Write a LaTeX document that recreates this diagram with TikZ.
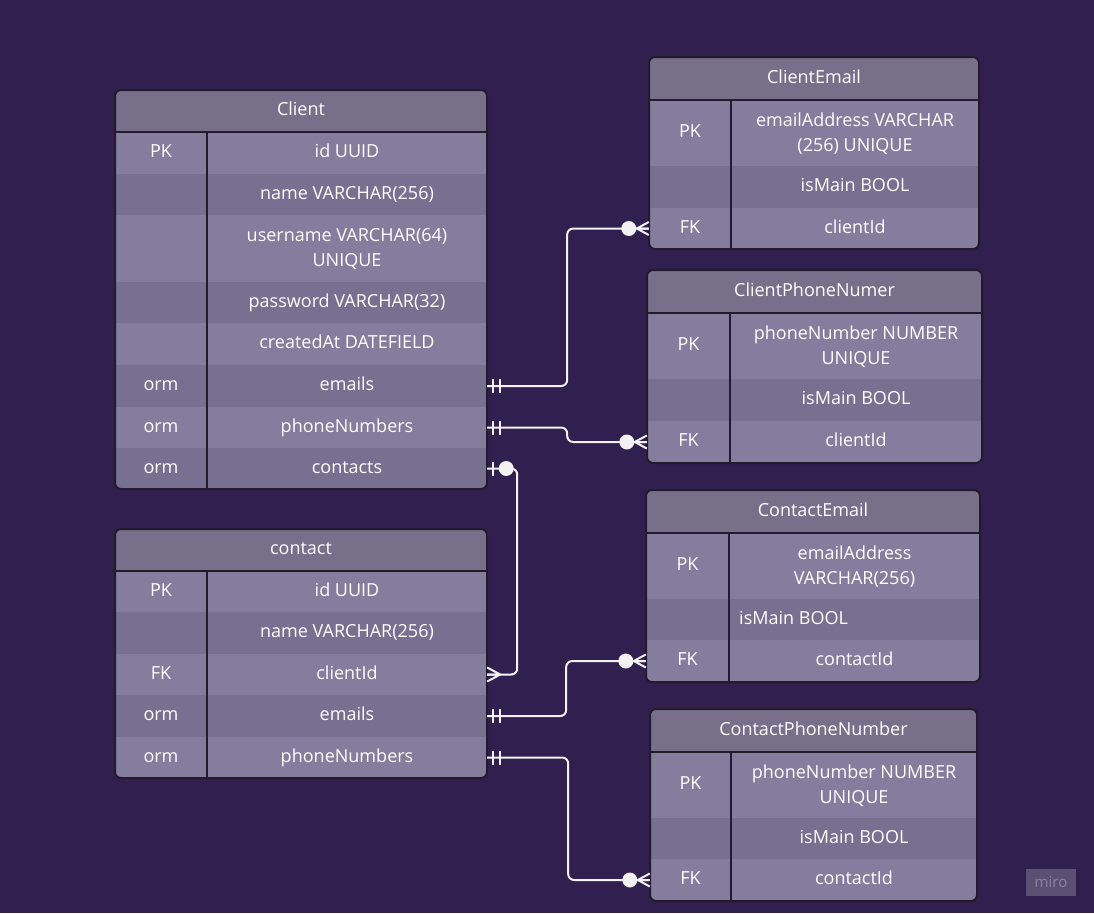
\documentclass[tikz,border=0pt]{standalone}
\usepackage{fontspec}
\setmainfont{Open Sans}
\definecolor{bg}{HTML}{311F4F}
\definecolor{hdr}{HTML}{78708B}
\definecolor{rowL}{HTML}{857D9D}
\definecolor{rowD}{HTML}{787090}
\definecolor{edge}{HTML}{221B2C}
\definecolor{connc}{HTML}{F2F2F2}
\definecolor{logo}{HTML}{5B5073}
\definecolor{logotxt}{HTML}{8C83A3}
\tikzset{
  cellbase/.style={inner sep=0pt, draw=none, text=white, font=\fontsize{18}{25}\selectfont, align=center},
  cell/.style={cellbase, text height=13pt, text depth=4pt},
  frame/.style={draw=edge, line width=2pt},
  conn/.style={draw=connc, line width=2pt},
  onlyone/.pic={\draw[conn] (6,-7)--(6,7) (13,-7)--(13,7);},
  manyopt/.pic={\draw[conn] (0,-6.5) -- (-12,0) -- (0,6.5) (0,0) -- (-12,0); \fill[connc] (-20,0) circle (7.5);},
  zeroone/.pic={\draw[conn] (6,-7)--(6,7); \fill[connc] (19,0) circle (7.5);},
  manyfoot/.pic={\draw[conn] (0,-7) -- (13,0) -- (0,7) (0,0) -- (13,0);}
}
\newcommand\ercell[7]{\node[cell,fill=#6,minimum width={#4-#2},minimum height={#5-#3}] (#1) at ({(#2+#4)/2},{(#3+#5)/2}) {#7};}
\newcommand\ercellm[7]{\node[cellbase,fill=#6,minimum width={#4-#2},minimum height={#5-#3}] (#1) at ({(#2+#4)/2},{(#3+#5)/2+1}) {#7};}
\newcommand\erframe[6]{\draw[frame,rounded corners=6] (#1,#2) rectangle (#3,#4); \draw[frame] (#1,#5) -- (#3,#5) (#6,#5) -- (#6,#4);}
\begin{document}
\begin{tikzpicture}[x=1pt,y=-1pt]
\useasboundingbox (0,0) rectangle (1094,913);
\fill[bg] (0,0) rectangle (1094,913);

% ---------- Client ----------
\begin{scope}
\clip[rounded corners=6] (115,90) rectangle (487,489);
\ercell{c-h}{115}{90}{487}{132}{hdr}{Client}
\ercell{c-pk-l}{115}{132}{207}{174}{rowL}{PK}
\ercell{c-pk-r}{207}{132}{487}{174}{rowL}{id UUID}
\ercell{c-name-l}{115}{174}{207}{215}{rowD}{}
\ercell{c-name-r}{207}{174}{487}{215}{rowD}{name VARCHAR(256)}
\ercell{c-user-l}{115}{215}{207}{282}{rowL}{}
\fill[rowL] (207,215) rectangle (487,282);
\ercellm{c-user-r}{207}{215}{487}{282}{rowL}{username VARCHAR(64)\\UNIQUE}
\ercell{c-pass-l}{115}{282}{207}{323}{rowD}{}
\ercell{c-pass-r}{207}{282}{487}{323}{rowD}{password VARCHAR(32)}
\ercell{c-cr-l}{115}{323}{207}{365}{rowL}{}
\ercell{c-cr-r}{207}{323}{487}{365}{rowL}{createdAt DATEFIELD}
\ercell{c-em-l}{115}{365}{207}{407}{rowD}{orm}
\ercell{c-em-r}{207}{365}{487}{407}{rowD}{emails}
\ercell{c-ph-l}{115}{407}{207}{448}{rowL}{orm}
\ercell{c-ph-r}{207}{407}{487}{448}{rowL}{phoneNumbers}
\ercell{c-co-l}{115}{448}{207}{489}{rowD}{orm}
\ercell{c-co-r}{207}{448}{487}{489}{rowD}{contacts}
\end{scope}
\erframe{115}{90}{487}{489}{132}{207}

% ---------- contact ----------
\begin{scope}
\clip[rounded corners=6] (115,529) rectangle (487,778);
\ercell{n-h}{115}{529}{487}{571}{hdr}{contact}
\ercell{n-pk-l}{115}{571}{207}{612}{rowL}{PK}
\ercell{n-pk-r}{207}{571}{487}{612}{rowL}{id UUID}
\ercell{n-name-l}{115}{612}{207}{654}{rowD}{}
\ercell{n-name-r}{207}{612}{487}{654}{rowD}{name VARCHAR(256)}
\ercell{n-fk-l}{115}{654}{207}{695}{rowL}{FK}
\ercell{n-fk-r}{207}{654}{487}{695}{rowL}{clientId}
\ercell{n-em-l}{115}{695}{207}{737}{rowD}{orm}
\ercell{n-em-r}{207}{695}{487}{737}{rowD}{emails}
\ercell{n-ph-l}{115}{737}{207}{778}{rowL}{orm}
\ercell{n-ph-r}{207}{737}{487}{778}{rowL}{phoneNumbers}
\end{scope}
\erframe{115}{529}{487}{778}{571}{207}

% ---------- ClientEmail ----------
\begin{scope}
\clip[rounded corners=6] (649,57) rectangle (979,249);
\ercell{ce-h}{649}{57}{979}{100}{hdr}{ClientEmail}
\ercell{ce-pk-l}{649}{100}{731}{166}{rowL}{PK}
\fill[rowL] (731,100) rectangle (979,166);
\ercellm{ce-pk-r}{731}{100}{979}{166}{rowL}{emailAddress VARCHAR\\(256) UNIQUE}
\ercell{ce-mn-l}{649}{166}{731}{208}{rowD}{}
\ercell{ce-mn-r}{731}{166}{979}{208}{rowD}{isMain BOOL}
\ercell{ce-fk-l}{649}{208}{731}{249}{rowL}{FK}
\ercell{ce-fk-r}{731}{208}{979}{249}{rowL}{clientId}
\end{scope}
\erframe{649}{57}{979}{249}{100}{731}

% ---------- ClientPhoneNumer ----------
\begin{scope}
\clip[rounded corners=6] (647,270) rectangle (982,463);
\ercell{cp-h}{647}{270}{982}{313}{hdr}{ClientPhoneNumer}
\ercell{cp-pk-l}{647}{313}{730}{379}{rowL}{PK}
\fill[rowL] (730,313) rectangle (982,379);
\ercellm{cp-pk-r}{730}{313}{982}{379}{rowL}{phoneNumber NUMBER\\UNIQUE}
\ercell{cp-mn-l}{647}{379}{730}{421}{rowD}{}
\ercell{cp-mn-r}{730}{379}{982}{421}{rowD}{isMain BOOL}
\ercell{cp-fk-l}{647}{421}{730}{463}{rowL}{FK}
\ercell{cp-fk-r}{730}{421}{982}{463}{rowL}{clientId}
\end{scope}
\erframe{647}{270}{982}{463}{313}{730}

% ---------- ContactEmail ----------
\begin{scope}
\clip[rounded corners=6] (646,490) rectangle (980,682);
\ercell{te-h}{646}{490}{980}{533}{hdr}{ContactEmail}
\ercell{te-pk-l}{646}{533}{729}{599}{rowL}{PK}
\fill[rowL] (729,533) rectangle (980,599);
\ercellm{te-pk-r}{729}{533}{980}{599}{rowL}{emailAddress\\VARCHAR(256)}
\ercell{te-mn-l}{646}{599}{729}{640}{rowD}{}
\ercell{te-mn-r}{729}{599}{980}{640}{rowD}{}
\ercell{te-fk-l}{646}{640}{729}{682}{rowL}{FK}
\ercell{te-fk-r}{729}{640}{980}{682}{rowL}{contactId}
\end{scope}
\node[cell,anchor=west] (te-mn-txt) at (739,619.5) {isMain BOOL};
\erframe{646}{490}{980}{682}{533}{729}

% ---------- ContactPhoneNumber ----------
\begin{scope}
\clip[rounded corners=6] (650,709) rectangle (977,901);
\ercell{tp-h}{650}{709}{977}{752}{hdr}{ContactPhoneNumber}
\ercell{tp-pk-l}{650}{752}{731}{818}{rowL}{PK}
\fill[rowL] (731,752) rectangle (977,818);
\ercellm{tp-pk-r}{731}{752}{977}{818}{rowL}{phoneNumber NUMBER\\UNIQUE}
\ercell{tp-mn-l}{650}{818}{731}{859}{rowD}{}
\ercell{tp-mn-r}{731}{818}{977}{859}{rowD}{isMain BOOL}
\ercell{tp-fk-l}{650}{859}{731}{901}{rowL}{FK}
\ercell{tp-fk-r}{731}{859}{977}{901}{rowL}{contactId}
\end{scope}
\erframe{650}{709}{977}{901}{752}{731}

% ---------- connectors ----------
\draw[conn,rounded corners=6] (c-em-r.east) -- ++(80,0) |- (ce-fk-l.west);
\pic at (c-em-r.east) {onlyone};
\pic at (ce-fk-l.west) {manyopt};

\draw[conn,rounded corners=6] (c-ph-r.east) -- ++(80,0) |- (cp-fk-l.west);
\pic at (c-ph-r.east) {onlyone};
\pic at (cp-fk-l.west) {manyopt};

\draw[conn,rounded corners=6] (c-co-r.east) -- ++(30,0) |- (n-fk-r.east);
\pic at (c-co-r.east) {zeroone};
\pic at (n-fk-r.east) {manyfoot};

\draw[conn,rounded corners=6] (n-em-r.east) -- ++(79,0) |- (te-fk-l.west);
\pic at (n-em-r.east) {onlyone};
\pic at (te-fk-l.west) {manyopt};

\draw[conn,rounded corners=6] (n-ph-r.east) -- ++(81,0) |- (tp-fk-l.west);
\pic at (n-ph-r.east) {onlyone};
\pic at (tp-fk-l.west) {manyopt};

% ---------- logo ----------
\node[fill=logo,text=logotxt,inner sep=0pt,minimum width=50,minimum height=27,font=\fontsize{15}{15}\selectfont] (miro) at (1051,882.5) {miro};
\end{tikzpicture}
\end{document}
